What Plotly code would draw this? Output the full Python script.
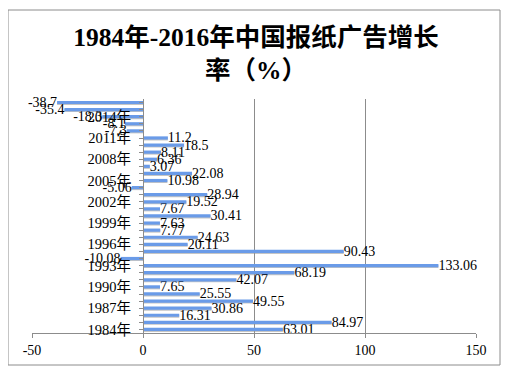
import plotly.graph_objects as go

years = list(range(1984, 2017))
growth = [63.01, 84.97, 16.31, 30.86, 49.55, 25.55, 7.65, 42.07, 68.19, 133.06,
          -10.08, 90.43, 20.11, 24.63, 7.77, 7.63, 30.41, 7.67, 19.52, 28.94,
          -5.06, 10.98, 22.08, 3.07, 6.36, 8.11, 18.5, 11.2, -7.3, -8.1,
          -18.3, -35.4, -38.7]
value_labels = ["63.01", "84.97", "16.31", "30.86", "49.55", "25.55", "7.65", "42.07",
                "68.19", "133.06", "-10.08", "90.43", "20.11", "24.63", "7.77", "7.63",
                "30.41", "7.67", "19.52", "28.94", "-5.06", "10.98", "22.08", "3.07",
                "6.36", "8.11", "18.5", "11.2", "-7.3", "-8.1", "-18.3", "-35.4", "-38.7"]
tick_labels = [f"{y}年" if (y - 1984) % 3 == 0 else "" for y in years]
x_ticks = [-50, 0, 50, 100, 150]

font_fam = "Liberation Serif, Noto Sans CJK SC, serif"

# page body has an 8px margin, so figure coords = screen coords - 8
W, H = 501, 365
L, R, T, B = 24, 33, 91, 40
pw, ph = W - L - R, H - T - B

fig = go.Figure()
# shadow
fig.add_trace(go.Bar(
    y=years, x=growth, orientation="h", width=0.45, offset=-0.35,
    marker=dict(color="rgba(150,150,150,0.55)", line=dict(width=0)),
    hoverinfo="skip", showlegend=False,
))
fig.add_trace(go.Bar(
    y=years, x=growth, orientation="h", width=0.45, offset=-0.22,
    marker=dict(color="#6a9be8", line=dict(width=0)),
    text=value_labels, textposition="outside", constraintext="none",
    textfont=dict(family=font_fam, size=14, color="#000000"),
    cliponaxis=False, showlegend=False,
))

fig.update_layout(
    width=W, height=H,
    margin=dict(l=L, r=R, t=T, b=B),
    paper_bgcolor="white", plot_bgcolor="white",
    barmode="overlay",
    title=dict(text="<b>1984年-2016年中国报纸广告增长<br>率（%）</b>",
               x=(256 - 8) / W, xanchor="center", xref="container",
               y=1 - 38 / H, yanchor="top", yref="container",
               font=dict(family=font_fam, size=25.5, color="#000000")),
    xaxis=dict(range=[-50, 150], tickvals=x_ticks, ticktext=[str(v) for v in x_ticks],
               showgrid=True, gridcolor="#8c8c8c", gridwidth=1, zeroline=False,
               showline=True, linecolor="#8c8c8c", linewidth=1,
               ticks="outside", ticklen=4, tickcolor="#8c8c8c",
               tickfont=dict(family=font_fam, size=14, color="#000000")),
    yaxis=dict(range=[1983.5, 2016.5], tickvals=years, ticktext=tick_labels,
               anchor="free", position=0.25, showgrid=False, zeroline=False,
               showline=True, linecolor="#8c8c8c", linewidth=1,
               ticks="outside", ticklen=4, tickcolor="#8c8c8c",
               ticklabelstandoff=5,
               tickfont=dict(family=font_fam, size=14.5, color="#000000")),
    shapes=[dict(type="rect", xref="paper", yref="paper",
                 x0=(0 - L) / pw, x1=(492 - L) / pw,
                 y0=(H - B - 357) / ph, y1=(H - B - 2) / ph,
                 line=dict(color="#8c8c8c", width=1), fillcolor="rgba(0,0,0,0)",
                 layer="above")],
)

fig.write_html("out.html")
